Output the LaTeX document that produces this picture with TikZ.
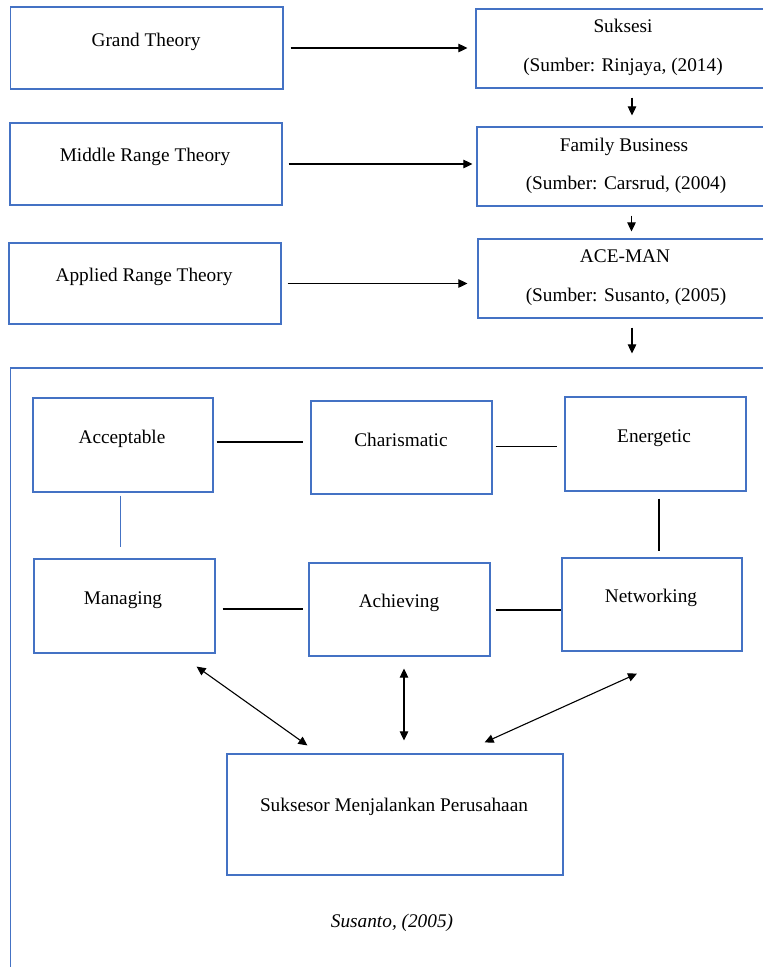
\documentclass[tikz,border=0pt]{standalone}
\usepackage{fontspec}
\setmainfont{Liberation Serif}
\usetikzlibrary{arrows.meta}
\definecolor{boxblue}{HTML}{4472C4}
\begin{document}
\begin{tikzpicture}[x=1pt,y=1pt,
  box/.style={draw=boxblue, line width=1.2pt, rectangle, inner sep=0pt},
  txt/.style={inner sep=0pt, font=\fontsize{19.3}{23}\selectfont, text height=13pt, text depth=4pt},
  arr/.style={line width=1.1pt, -{Triangle[length=9pt,width=8.5pt]}},
  darr/.style={line width=1.1pt, {Triangle[length=9pt,width=8.5pt]}-{Triangle[length=9pt,width=8.5pt]}},
  ln/.style={line width=1.1pt}]
\path[use as bounding box, clip] (0,0) rectangle (763,-967);
\fill[white] (0,0) rectangle (763,-967);

% top boxes
\node[box, minimum width=272.3pt, minimum height=82pt] (gt) at (146.9,-48) {};
\node[box, minimum width=294pt, minimum height=79pt] (sk) at (623,-48.5) {};
\node[box, minimum width=272pt, minimum height=82pt] (mr) at (146,-164) {};
\node[box, minimum width=293pt, minimum height=79pt] (fb) at (623.5,-166.5) {};
\node[box, minimum width=272pt, minimum height=81pt] (ap) at (145,-283.5) {};
\node[box, minimum width=292pt, minimum height=79pt] (ace) at (624,-278.5) {};

\node[txt] (gtt) at (146,-42) {Grand Theory};
\node[txt] (skt1) at (623,-28) {Suksesi};
\node[txt] (skt2) at (623,-67) {(Sumber: Rinjaya, (2014)};
\node[txt] (mrt) at (145,-157) {Middle Range Theory};
\node[txt] (fbt1) at (624,-147) {Family Business};
\node[txt] (fbt2) at (626,-185) {(Sumber: Carsrud, (2004)};
\node[txt] (apt) at (144,-277) {Applied Range Theory};
\node[txt] (acet1) at (625,-258) {ACE-MAN};
\node[txt] (acet2) at (626,-297) {(Sumber: Susanto, (2005)};

\draw[arr, shorten <=7pt, shorten >=8pt] (gt.east) -- (gt.east -| sk.west);
\draw[arr, shorten <=6pt, shorten >=4pt] (mr.east) -- (mr.east -| fb.west);
\draw[arr, shorten <=6pt, shorten >=10pt] (ap.east) -- (ap.east -| ace.west);

\draw[arr, shorten <=9pt, shorten >=11pt] ([xshift=9pt]sk.south) -- ([xshift=9pt]sk.south |- fb.north);
\draw[arr, shorten <=9pt, shorten >=7pt] ([xshift=8pt]fb.south) -- ([xshift=8pt]fb.south |- ace.north);

% frame
\node[box, minimum width=779.3pt, minimum height=622pt] (frame) at (400.35,-679) {};
\draw[arr, shorten <=9pt, shorten >=14pt] ([xshift=8pt]ace.south) -- ([xshift=8pt]ace.south |- frame.north);

% ACE-MAN boxes
\node[box, minimum width=180pt, minimum height=94pt] (acc) at (123,-445) {};
\node[box, minimum width=181pt, minimum height=93pt] (cha) at (401.5,-447.5) {};
\node[box, minimum width=181pt, minimum height=94pt] (ene) at (655.5,-444) {};
\node[box, minimum width=181pt, minimum height=94pt] (man) at (124.5,-606) {};
\node[box, minimum width=181pt, minimum height=93pt] (ach) at (399.5,-609.5) {};
\node[box, minimum width=180pt, minimum height=93pt] (net) at (652,-604.5) {};
\node[box, minimum width=336pt, minimum height=121pt] (su) at (395,-814.5) {};

\node[txt] (acct) at (122,-439) {Acceptable};
\node[txt] (chat) at (401,-442) {Charismatic};
\node[txt] (enet) at (654,-438) {Energetic};
\node[txt] (mant) at (123,-600) {Managing};
\node[txt] (acht) at (399,-603) {Achieving};
\node[txt] (nett) at (651,-598) {Networking};
\node[txt] (sut) at (394,-807) {Suksesor Menjalankan Perusahaan};
\node[txt, font=\fontsize{19.3}{23}\selectfont\itshape] (src) at (392,-923) {Susanto, (2005)};

% lines
\draw[ln, shorten <=3pt, shorten >=7pt] ([yshift=3pt]acc.east) -- ([yshift=3pt]acc.east -| cha.west);
\draw[ln, shorten <=3pt, shorten >=7pt] ([yshift=1pt]cha.east) -- ([yshift=1pt]cha.east -| ene.west);
\draw[ln, draw=boxblue, line width=0.8pt, shorten <=3pt, shorten >=11pt] ([xshift=-3pt]acc.south) -- ([xshift=-3pt]acc.south |- man.north);
\draw[ln, shorten <=7pt, shorten >=6pt] ([xshift=3.5pt]ene.south) -- ([xshift=3.5pt]ene.south |- net.north);
\draw[ln, shorten <=7pt, shorten >=5pt] ([yshift=-3pt]man.east) -- ([yshift=-3pt]man.east -| ach.west);
\draw[ln, shorten <=5pt] ([yshift=-0.5pt]ach.east) -- ([yshift=-0.5pt]ach.east -| net.west);

% double arrows
\draw[darr] ([shift={(-19pt,-13pt)}]man.south east) -- ([shift={(81pt,8pt)}]su.north west);
\draw[darr, shorten <=12pt, shorten >=13pt] ([xshift=4.5pt]ach.south) -- ([xshift=4.5pt]ach.south |- su.north);
\draw[darr] ([shift={(-15pt,-22pt)}]net.south) -- ([shift={(-79pt,11pt)}]su.north east);
\end{tikzpicture}
\end{document}
